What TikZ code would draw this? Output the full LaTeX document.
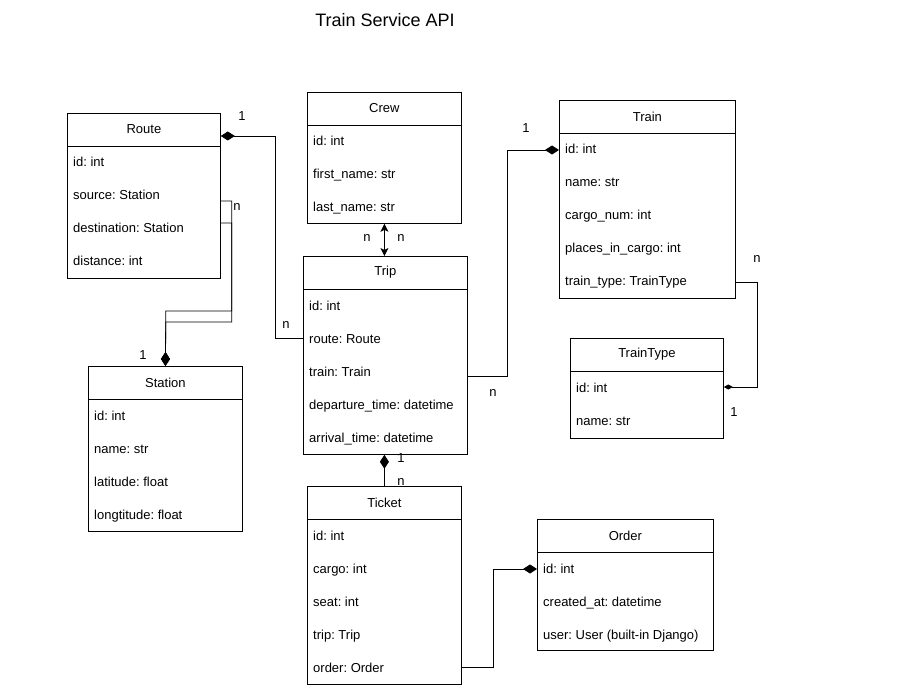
\documentclass[tikz,border=0pt]{standalone}
\usepackage{fontspec}
\setmainfont{Liberation Sans}
\usetikzlibrary{calc,arrows.meta}
\frenchspacing

\tikzset{
  classbox/.style = {draw, line width=0.8pt, anchor=north west, inner sep=0pt},
  classtitle/.style = {font=\fontsize{13}{15}\selectfont, inner sep=0pt},
  attr/.style = {font=\fontsize{13}{15}\selectfont, anchor=base west, inner sep=0pt},
  mult/.style = {font=\fontsize{13}{15}\selectfont, inner sep=0pt},
  link/.style = {line width=0.8pt},
  comp/.style = {link, -{Diamond[length=14pt,width=9pt]}},
  compsmall/.style = {link, -{Diamond[length=9pt,width=5pt]}},
  assoc/.style = {link, {Stealth[length=8pt,width=8pt,inset=2pt]}-{Stealth[length=8pt,width=8pt,inset=2pt]}}
}

% name, x, y, width, height, title, rows
\newcommand\umlclass[7]{%
  \node[classbox, minimum width=#4, minimum height=#5] (#1) at (#2,#3) {};
  \node[classtitle] (#1-t) at ($(#1.north)+(0,16.5)$) {#6};
  \draw[line width=0.8pt] ($(#1.north west)+(0,33)$) -- ($(#1.north east)+(0,33)$);
  \foreach \attrtext [count=\i] in {#7}
    \node[attr] (#1-\i) at ($(#1.north west)+(6,21+33*\i)$) {\attrtext};
}

\begin{document}
\begin{tikzpicture}[x=1pt, y=-1pt]
\fill[white] (0,0) rectangle (904,692);
\useasboundingbox (0,0) rectangle (904,692);

\node[font=\fontsize{18}{21}\selectfont] (title) at (385,20) {Train Service API};

\umlclass{route}{67}{113}{153}{165}{Route}{id: int, source: Station, destination: Station, distance: int}
\umlclass{crew}{307}{92}{154}{131}{Crew}{id: int, first\_name: str, last\_name: str}
\umlclass{train}{559}{100}{176}{198}{Train}{id: int, name: str, cargo\_num: int, places\_in\_cargo: int, train\_type: TrainType}
\umlclass{trip}{303}{256}{164}{198}{Trip}{id: int, route: Route, train: Train, departure\_time: datetime, arrival\_time: datetime}
\umlclass{station}{88}{366}{154}{165}{Station}{id: int, name: str, latitude: float, longtitude: float}
\umlclass{traintype}{570}{338}{153}{100}{TrainType}{id: int, name: str}
\umlclass{ticket}{307}{486}{154}{198}{Ticket}{id: int, cargo: int, seat: int, trip: Trip, order: Order}
\umlclass{order}{537}{519}{176}{131}{Order}{id: int, created\_at: datetime, user: User (built-in Django)}

% relations
\draw[comp] ($(trip.north west)+(0,82)$) -- ++(-28,0) |- ($(route.north east)+(0,23)$);
\draw[comp] ($(route.north east)+(0,88)$) -- ++(11,0) |- ++(-66,110) -- (station.north);
\draw[comp] ($(route.north east)+(0,110)$) -- ++(11,0) |- ++(-66,99) -- (station.north);
\draw[assoc] (crew.south) -- (crew.south |- trip.north);
\draw[comp] ($(trip.north east)+(0,120)$) -- ++(40,0) |- ($(train.north west)+(0,50)$);
\draw[compsmall] ($(train.north east)+(0,182)$) -- ++(22,0) |- ($(traintype.north east)+(0,49)$);
\draw[comp] (ticket.north) -- (ticket.north |- trip.south);
\draw[comp] ($(ticket.north east)+(0,181)$) -- ++(32,0) |- ($(order.north west)+(0,50)$);

% multiplicities
\node[mult] (m-route1) at (242,116) {1};
\node[mult] (m-routen) at (286,325) {n};
\node[mult] (m-stationn) at (237,207) {n};
\node[mult] (m-station1) at (143,355) {1};
\node[mult] (m-crewn) at (367,238) {n};
\node[mult] (m-tripn) at (401,238) {n};
\node[mult] (m-train1) at (526,128) {1};
\node[mult] (m-trainn) at (493,393) {n};
\node[mult] (m-typen) at (757,259) {n};
\node[mult] (m-type1) at (734,412) {1};
\node[mult] (m-ticket1) at (401,458) {1};
\node[mult] (m-ticketn) at (401,482) {n};
\end{tikzpicture}
\end{document}
